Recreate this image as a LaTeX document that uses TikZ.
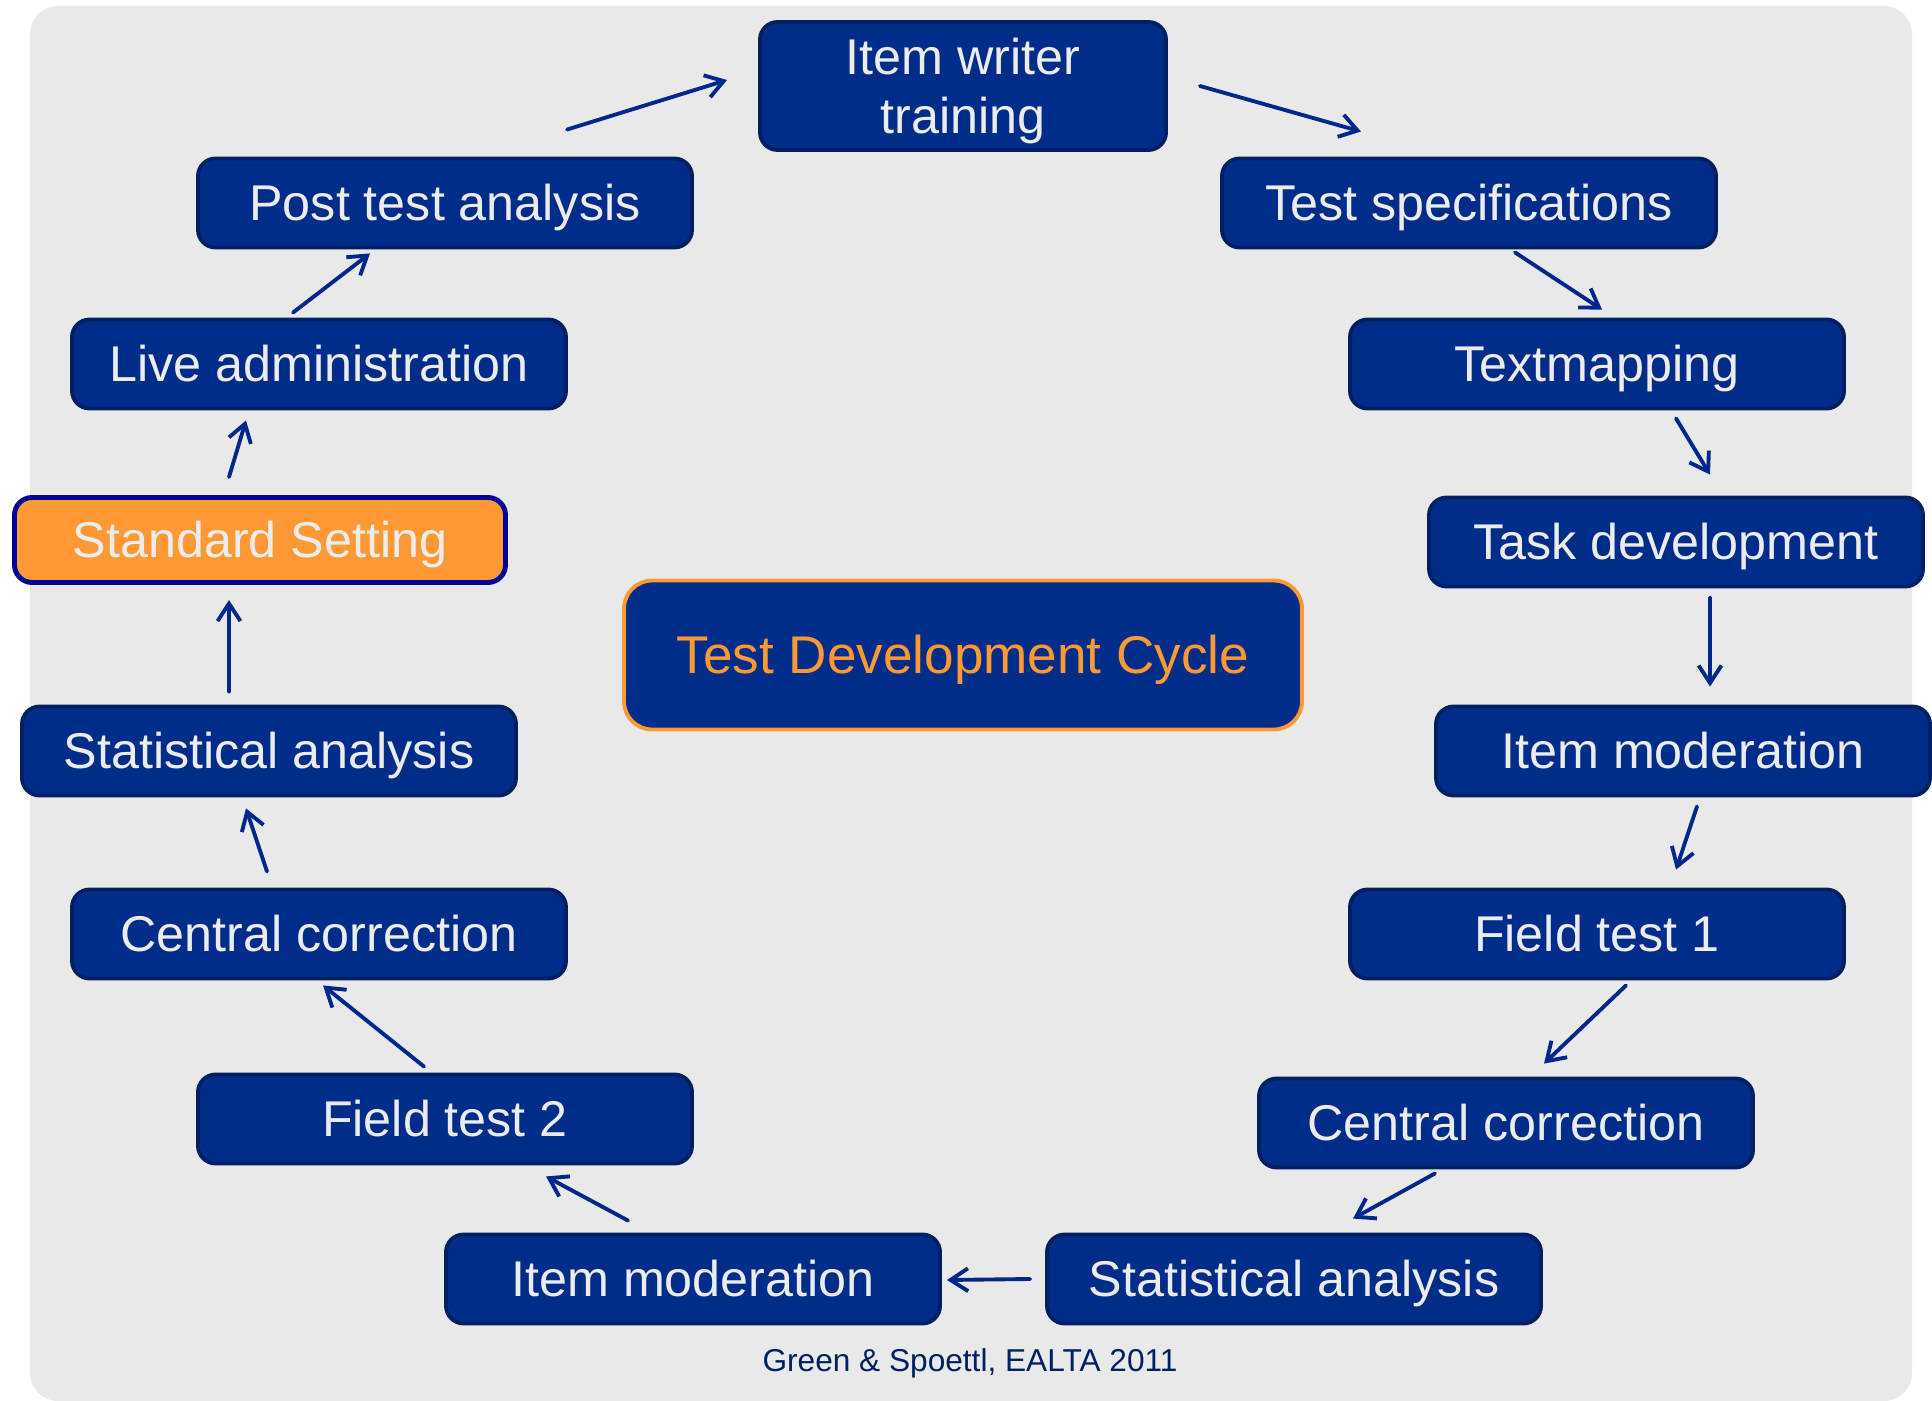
\documentclass[tikz,border=0pt]{standalone}
\usepackage{fontspec}
\setmainfont{Liberation Sans}
\usetikzlibrary{arrows.meta}
\definecolor{tdcblue}{RGB}{0,45,138}
\definecolor{tdcedge}{RGB}{0,32,98}
\definecolor{tdctext}{RGB}{236,236,236}
\definecolor{tdcorange}{RGB}{255,153,51}
\definecolor{stdedge}{RGB}{0,0,150}
\definecolor{arrowblue}{RGB}{0,40,140}
\definecolor{bggrey}{RGB}{233,233,233}

\begin{document}
\begin{tikzpicture}[
    x=1cm, y=1cm,
    every node/.style={font=\fontsize{14.3}{16.8}\selectfont},
    tile/.style={rectangle, rounded corners=5pt, draw=tdcedge,
        line width=1.1pt, fill=tdcblue, text=tdctext, inner sep=0pt,
        minimum width=4.94cm, minimum height=0.89cm},
    stage/.style={tile, text height=10.2pt, text depth=0pt},
    hl/.style={stage, draw=stdedge, line width=1.4pt, fill=tdcorange,
        minimum width=4.91cm, minimum height=0.85cm},
    hub/.style={stage, draw=tdcorange, text=tdcorange,
        rounded corners=8pt, minimum width=6.78cm, minimum height=1.49cm,
        text height=10.8pt, font=\fontsize{15.1}{18}\selectfont},
    flow/.style={-{Straight Barb[length=5pt,width=6.5pt]},
        line width=1.1pt, line cap=round, draw=arrowblue},
]
\useasboundingbox (0,0) rectangle (19.32,-14.01);
\fill[bggrey, rounded corners=0.28cm] (0.30,-0.06) rectangle (19.12,-14.01);

% ===== cycle stages, clockwise from the top =====
\node[tile, align=center, text depth=0pt, minimum width=4.06cm,
    minimum height=1.28cm] (iwt) at (9.63,-0.86) {Item writer\\training};
\node[stage] (spec)  at (14.69,-2.03)  {Test specifications};
\node[stage] (tmap)  at (15.97,-3.64)  {Textmapping};
\node[stage] (task)  at (16.76,-5.42)  {Task development};
\node[stage] (imodR) at (16.83,-7.51)  {Item moderation};
\node[stage] (ft1)   at (15.97,-9.34)  {Field test 1};
\node[stage] (ccR)   at (15.06,-11.23) {Central correction};
\node[stage] (saR)   at (12.94,-12.79) {Statistical analysis};
\node[stage] (imodL) at (6.93,-12.79)  {Item moderation};
\node[stage] (ft2)   at (4.45,-11.19)  {Field test 2};
\node[stage] (ccL)   at (3.19,-9.34)   {Central correction};
\node[stage] (saL)   at (2.69,-7.51)   {Statistical analysis};
\node[hl]    (std)   at (2.60,-5.40)   {Standard Setting};
\node[stage] (live)  at (3.19,-3.64)   {Live administration};
\node[stage] (post)  at (4.45,-2.03)   {Post test analysis};

% centre label
\node[hub] (cycle) at (9.63,-6.55) {Test Development Cycle};

% arrows float in the gaps: start/end are shifted off the anchors
\foreach \a/\ax/\ay/\b/\bx/\by in {
    post.north/1.22/0.27/iwt.west/-0.31/0.06,
    iwt.east/0.32/0/spec.north/-1.08/0.25,
    spec.south/0.46/-0.03/tmap.north/0.05/0.08,
    tmap.south/0.79/-0.08/task.north/0.34/0.21,
    task.south/0.34/-0.09/imodR.north/0.27/0.18,
    imodR.south/0.14/-0.09/ft1.north/0.79/0.18,
    ft1.south/0.29/-0.05/ccR.north/0.38/0.13,
    ccR.south/-0.71/-0.04/saR.north/0.59/0.14,
    saR.west/-0.15/0/imodL.east/0.05/-0.01,
    imodL.north/-0.65/0.12/ft2.south/1.01/-0.11,
    ft2.north/-0.21/0.06/ccL.south/0.04/-0.05,
    ccL.north/-0.52/0.16/saL.south/-0.23/-0.11,
    saL.north/-0.40/0.13/std.south/-0.31/-0.15,
    std.north/-0.31/0.18/live.south/-0.73/-0.10,
    live.north/-0.26/0.05/post.south/-0.75/-0.04}
    \draw[flow] ([shift={(\ax,\ay)}]\a) -- ([shift={(\bx,\by)}]\b);

\node[font=\fontsize{9}{11}\selectfont, text=tdcedge] (credit)
    at (9.70,-13.63) {Green \& Spoettl, EALTA 2011};

\end{tikzpicture}
\end{document}
